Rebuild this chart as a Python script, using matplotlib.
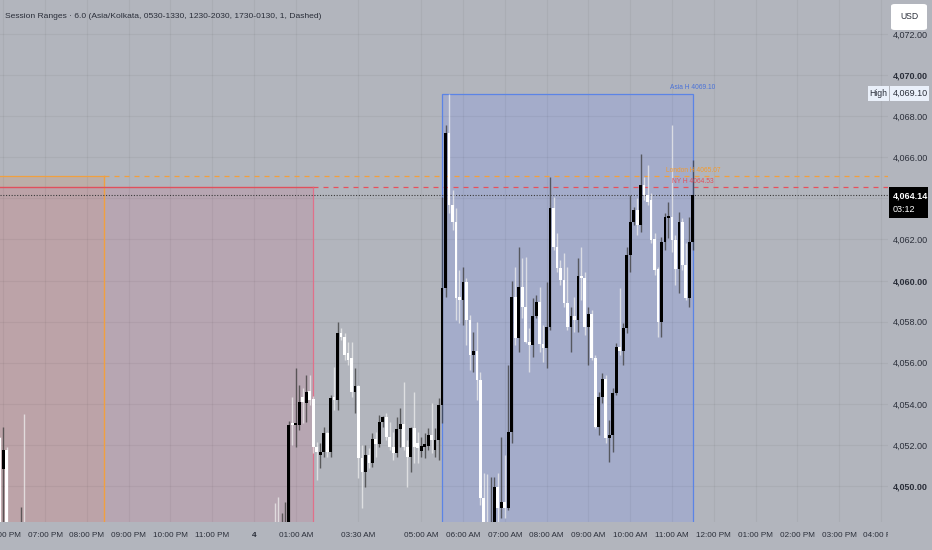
import matplotlib
matplotlib.use('Agg')
import matplotlib.pyplot as plt
from matplotlib.patches import Rectangle, FancyBboxPatch

# ---- data (5 min bars, bar 0 = 07:00 PM) ----
bars = [-13, -12, -11, -7, -6, 66, 67, 68, 69] + list(range(70, 187))

opens = [4052.34, 4050.83, 4051.75, 4047.60, 4047.90, 4047.90, 4047.90, 4047.60, 4047.60,
         4047.50, 4053.02, 4052.97, 4052.97, 4054.33, 4054.04, 4054.62, 4054.23, 4051.90, 4051.51,
         4051.66, 4052.58, 4051.66, 4054.33, 4054.19, 4057.45, 4057.25, 4056.47, 4056.23, 4054.57,
         4054.87, 4051.36, 4050.68, 4051.51, 4051.12, 4052.29, 4052.04, 4053.11, 4053.36, 4052.38,
         4051.90, 4051.61, 4052.77, 4053.02, 4051.90, 4051.41, 4052.82, 4052.09, 4051.70, 4051.90,
         4051.95, 4052.48, 4051.75, 4052.24, 4053.94, 4059.64, 4067.18, 4063.67, 4062.85, 4059.20,
         4059.05, 4059.93, 4058.08, 4056.38, 4056.57, 4055.16, 4049.42, 4048.00, 4047.60, 4047.60,
         4049.95, 4048.93, 4049.22, 4048.93, 4052.63, 4059.20, 4057.20, 4059.68, 4058.71, 4057.01,
         4056.86, 4058.27, 4058.95, 4056.91, 4056.72, 4057.74, 4063.53, 4061.63, 4060.61, 4060.03,
         4058.91, 4057.74, 4058.27, 4058.08, 4060.22, 4060.12, 4057.74, 4058.37, 4056.23, 4052.87,
         4054.33, 4055.21, 4052.34, 4052.48, 4054.53, 4056.76, 4056.57, 4057.69, 4061.24, 4062.85,
         4063.43, 4062.70, 4064.65, 4064.16, 4063.92, 4062.02, 4060.56, 4057.98, 4061.87, 4063.04,
         4063.09, 4061.97, 4060.56, 4062.85, 4060.75, 4059.15, 4061.87]

highs = [4052.40, 4052.87, 4051.90, 4048.98, 4053.50, 4049.17, 4049.47, 4048.69, 4049.22,
         4053.16, 4054.33, 4055.74, 4054.92, 4054.77, 4055.40, 4055.40, 4054.38, 4052.14, 4052.09,
         4052.87, 4052.63, 4054.43, 4055.79, 4057.98, 4057.69, 4057.45, 4057.01, 4057.01, 4055.74,
         4054.90, 4052.00, 4052.00, 4051.85, 4052.58, 4052.63, 4053.46, 4053.40, 4053.55, 4053.11,
         4052.63, 4053.36, 4053.80, 4055.06, 4052.24, 4052.87, 4054.57, 4052.63, 4052.38, 4052.58,
         4052.82, 4054.04, 4052.82, 4054.28, 4064.06, 4067.57, 4069.10, 4064.40, 4063.53, 4060.51,
         4060.66, 4060.12, 4058.32, 4057.49, 4057.98, 4055.55, 4050.63, 4050.60, 4050.44, 4050.44,
         4050.63, 4052.38, 4051.51, 4055.89, 4059.98, 4060.66, 4061.63, 4061.10, 4061.14, 4057.69,
         4059.15, 4059.30, 4059.68, 4057.84, 4059.93, 4065.04, 4064.06, 4062.31, 4061.00, 4061.34,
         4060.66, 4058.71, 4059.20, 4061.10, 4061.63, 4060.41, 4058.71, 4058.57, 4056.38, 4054.57,
         4055.50, 4055.40, 4053.21, 4054.77, 4056.96, 4059.64, 4057.93, 4061.63, 4064.16, 4063.58,
         4064.01, 4066.16, 4065.04, 4065.62, 4064.26, 4062.31, 4060.66, 4062.12, 4063.29, 4063.82,
         4067.57, 4062.21, 4063.34, 4063.04, 4061.82, 4063.09, 4065.86]

lows = [4047.30, 4047.30, 4047.30, 4047.30, 4047.30, 4047.30, 4047.30, 4047.30, 4047.30,
        4047.20, 4052.00, 4051.90, 4052.73, 4053.07, 4053.11, 4053.94, 4051.61, 4050.29, 4050.88,
        4051.41, 4051.41, 4051.41, 4053.70, 4053.70, 4057.10, 4056.13, 4055.89, 4054.33, 4053.55,
        4050.39, 4048.93, 4049.95, 4050.88, 4050.93, 4051.41, 4051.90, 4052.87, 4052.24, 4051.75,
        4051.27, 4051.41, 4051.90, 4051.75, 4049.95, 4050.68, 4051.12, 4051.12, 4051.41, 4051.36,
        4051.75, 4051.61, 4051.41, 4051.27, 4053.07, 4059.20, 4063.29, 4062.46, 4058.08, 4057.93,
        4057.84, 4056.86, 4055.65, 4055.55, 4054.19, 4049.08, 4047.30, 4047.30, 4047.30, 4047.30,
        4048.20, 4048.44, 4048.44, 4048.83, 4052.09, 4056.86, 4056.52, 4058.18, 4056.96, 4055.55,
        4056.28, 4058.18, 4056.52, 4056.04, 4055.74, 4057.59, 4061.48, 4060.41, 4059.78, 4058.71,
        4057.59, 4056.52, 4057.49, 4057.49, 4059.05, 4057.35, 4055.89, 4056.13, 4052.82, 4052.48,
        4054.04, 4052.09, 4051.17, 4051.66, 4054.43, 4056.38, 4055.89, 4057.45, 4060.41, 4062.70,
        4062.21, 4062.36, 4063.92, 4063.67, 4061.82, 4060.27, 4057.25, 4057.25, 4061.48, 4062.07,
        4061.39, 4059.78, 4059.39, 4060.51, 4059.05, 4058.71, 4061.48]

closes = [4047.60, 4051.75, 4047.80, 4047.90, 4047.60, 4047.60, 4047.60, 4047.90, 4047.90,
          4052.97, 4052.98, 4053.06, 4054.09, 4054.09, 4054.57, 4054.19, 4051.90, 4051.66, 4051.66,
          4052.58, 4051.66, 4054.28, 4054.19, 4057.45, 4057.25, 4056.38, 4056.13, 4054.57, 4054.87,
          4051.36, 4050.68, 4051.51, 4051.12, 4052.29, 4052.04, 4053.11, 4053.36, 4052.38, 4051.90,
          4051.61, 4052.77, 4053.02, 4051.90, 4051.41, 4052.82, 4051.90, 4051.85, 4051.95, 4052.04,
          4052.48, 4052.24, 4052.24, 4053.94, 4059.64, 4067.18, 4063.67, 4062.85, 4059.15, 4059.05,
          4059.93, 4058.08, 4056.38, 4056.57, 4055.16, 4049.42, 4047.60, 4047.60, 4048.00, 4049.95,
          4048.93, 4049.22, 4048.93, 4052.63, 4059.20, 4057.20, 4059.68, 4058.71, 4057.01, 4056.86,
          4058.27, 4058.95, 4056.91, 4056.72, 4057.74, 4063.53, 4061.63, 4060.61, 4060.03, 4058.91,
          4057.74, 4058.27, 4058.08, 4060.22, 4060.12, 4057.74, 4058.37, 4056.23, 4052.87, 4054.33,
          4055.21, 4052.34, 4052.48, 4054.53, 4056.76, 4056.57, 4057.69, 4061.24, 4062.85, 4063.43,
          4062.70, 4064.65, 4064.16, 4063.82, 4061.97, 4060.51, 4057.98, 4061.87, 4063.09, 4063.14,
          4061.97, 4060.56, 4062.85, 4060.75, 4059.15, 4061.87, 4064.14]

# sessions that already closed: (start bar, last bar, high)
london = (-78, 17, 4065.07)
newyork = (-18, 77, 4064.53)
asia_start = 114

tick_bars = [-12, 0, 12, 24, 36, 48, 60, 72, 90, 108, 120, 132, 144, 156, 168, 180,
             192, 204, 216, 228, 240]
tick_labels = ['06:00 PM', '07:00 PM', '08:00 PM', '09:00 PM', '10:00 PM', '11:00 PM', '4',
               '01:00 AM', '03:30 AM', '05:00 AM', '06:00 AM', '07:00 AM', '08:00 AM',
               '09:00 AM', '10:00 AM', '11:00 AM', '12:00 PM', '01:00 PM', '02:00 PM',
               '03:00 PM', '04:00 PM']
price_ticks = [4050, 4052, 4054, 4056, 4058, 4060, 4062, 4066, 4068, 4070, 4072]

last_price = closes[-1]
countdown = '03:12'

# ---- style ----
BG = '#b2b5bd'
plt.rcParams['font.family'] = ['Liberation Sans', 'DejaVu Sans']
TXT = '#2a2e39'

W, H = 932, 550
fig = plt.figure(figsize=(W / 100, H / 100), dpi=100, facecolor=BG)
ax = fig.add_axes([0, 28 / H, 888 / W, 522 / H], facecolor=BG)
ax.set_xlim(-12.92, 242.03)
ax.set_ylim(4048.25, 4073.65)
for s in ax.spines.values():
    s.set_visible(False)

# grid
for t in tick_bars:
    ax.axvline(t, color=(0, 0, 0, 0.045), lw=0.9, zorder=2)
for p in price_ticks + [4064]:
    ax.axhline(p, color=(0, 0, 0, 0.045), lw=0.9, zorder=2)

# session boxes
low_clip = 4040
ax.add_patch(Rectangle((london[0], low_clip), london[1] - london[0], london[2] - low_clip,
                       facecolor='#c9a78f', edgecolor='none', alpha=0.45, zorder=1))
ax.add_patch(Rectangle((newyork[0], low_clip), newyork[1] - newyork[0], newyork[2] - low_clip,
                       facecolor='#bc9aa9', edgecolor='none', alpha=0.55, zorder=1))
ax.plot([london[0], london[1]], [london[2], london[2]], color='#f0a040', lw=0.9, zorder=3)
ax.plot([london[1], london[1]], [low_clip, london[2]], color='#f0a040', lw=1.0, zorder=3)
ax.plot([newyork[0], newyork[1]], [newyork[2], newyork[2]], color='#e0505c', lw=1.0, zorder=3)
ax.plot([newyork[1], newyork[1]], [low_clip, newyork[2]], color='#e0708a', lw=0.9, zorder=3)
ax.plot([london[1], 260], [london[2], london[2]], color='#f0a040', lw=0.9,
        ls=(0, (4, 4)), zorder=3)
ax.plot([newyork[1], 260], [newyork[2], newyork[2]], color='#e8505c', lw=0.9,
        ls=(0, (4, 4)), zorder=3)

asia_idx = [i for i, b in enumerate(bars) if b >= asia_start]
asia_end = bars[-1]
asia_high = max(highs[i] for i in asia_idx)
asia_low = min(lows[i] for i in asia_idx)
ax.add_patch(Rectangle((asia_start, asia_low - 5), asia_end - asia_start, asia_high - asia_low + 5,
                       facecolor='#9aa6d6', edgecolor='none', alpha=0.55, zorder=1))
ax.add_patch(Rectangle((asia_start, asia_low - 5), asia_end - asia_start, asia_high - asia_low + 5,
                       facecolor='none', edgecolor='#5b84e6', lw=0.9, zorder=3))

# current price line
ax.axhline(last_price, color='#3a3a3a', lw=0.8, ls=(0, (1, 1.5)), zorder=3)

# candles
for b, o, h, l, c in zip(bars, opens, highs, lows, closes):
    up = c >= o
    body_col = '#000000' if up else '#ffffff'
    wick_col = '#3c3c3c' if up else '#eeeeee'
    ax.vlines(b, l, h, color=wick_col, lw=1.0, alpha=0.75, zorder=4)
    bottom = min(o, c)
    height = max(abs(c - o), 0.07)
    ax.bar(b, height, bottom=bottom, width=0.8, color=body_col, edgecolor='none', zorder=5)

# session labels
ax.text(asia_end, asia_high + 0.12, 'Asia H %.2f' % asia_high, color='#4a72d8',
        fontsize=4.8, ha='center', va='bottom', zorder=6)
ax.text(asia_end, london[2] + 0.12, 'London H %.2f' % london[2], color='#f59a2a',
        fontsize=4.8, ha='center', va='bottom', zorder=6)
ax.text(asia_end, newyork[2] + 0.12, 'NY H %.2f' % newyork[2], color='#e0505c',
        fontsize=4.8, ha='center', va='bottom', zorder=6)

# axes ticks
ax.set_xticks(tick_bars)
ax.set_xticklabels(tick_labels)
ax.tick_params(axis='x', length=0, pad=7.5, labelsize=5.9, labelcolor=TXT)
for lbl in ax.get_xticklabels():
    if lbl.get_text() == '4':
        lbl.set_fontweight('bold')

ax.yaxis.tick_right()
ax.set_yticks(price_ticks)
ax.set_yticklabels(['{:,.2f}'.format(p) for p in price_ticks])
ax.tick_params(axis='y', length=0, pad=3.5, labelsize=6.5, labelcolor=TXT)
for lbl, p in zip(ax.get_yticklabels(), price_ticks):
    if p % 10 == 0:
        lbl.set_fontweight('bold')

# title
fig.text(5 / W, 1 - 16 / H, 'Session Ranges · 6.0 (Asia/Kolkata, 0530-1330, 1230-2030, 1730-0130, 1, Dashed)',
         fontsize=6.1, color=TXT, va='center', ha='left')


def fx(px):
    return px / W


def fy(py):
    return 1 - py / H


# cover axis corner so bottom labels stop at price scale
fig.add_artist(Rectangle((fx(888), 0), fx(44), 28 / H, transform=fig.transFigure,
                         facecolor=BG, edgecolor='none', zorder=8))

# USD button
fig.add_artist(FancyBboxPatch((fx(891), fy(30)), fx(36), 26 / H, transform=fig.transFigure,
                              boxstyle='round,pad=0,rounding_size=0.004',
                              facecolor='#ffffff', edgecolor='none', zorder=9))
fig.text(fx(909), fy(16.5), 'USD', fontsize=6.2, color=TXT, ha='center', va='center', zorder=10)

# High label
fig.add_artist(Rectangle((fx(868), fy(101)), fx(21), 15 / H, transform=fig.transFigure,
                         facecolor='#eaf0fa', edgecolor='none', zorder=9))
fig.add_artist(Rectangle((fx(889.5), fy(101)), fx(39), 15 / H, transform=fig.transFigure,
                         facecolor='#eaf0fa', edgecolor='none', zorder=9))
fig.text(fx(878.5), fy(93.5), 'High', fontsize=6.2, color=TXT, ha='center', va='center', zorder=10)
fig.text(fx(893), fy(93.5), '{:,.2f}'.format(asia_high), fontsize=6.5, color=TXT,
         ha='left', va='center', zorder=10)

# last price label
fig.add_artist(Rectangle((fx(889), fy(218)), fx(39), 31 / H, transform=fig.transFigure,
                         facecolor='#000000', edgecolor='none', zorder=9))
fig.text(fx(893), fy(195.5), '{:,.2f}'.format(last_price), fontsize=6.5, color='white',
         fontweight='bold', ha='left', va='center', zorder=10)
fig.text(fx(893), fy(210), countdown, fontsize=6.5, color='white', ha='left', va='center', zorder=10)

fig.savefig('out.png', dpi=100, facecolor=BG)
